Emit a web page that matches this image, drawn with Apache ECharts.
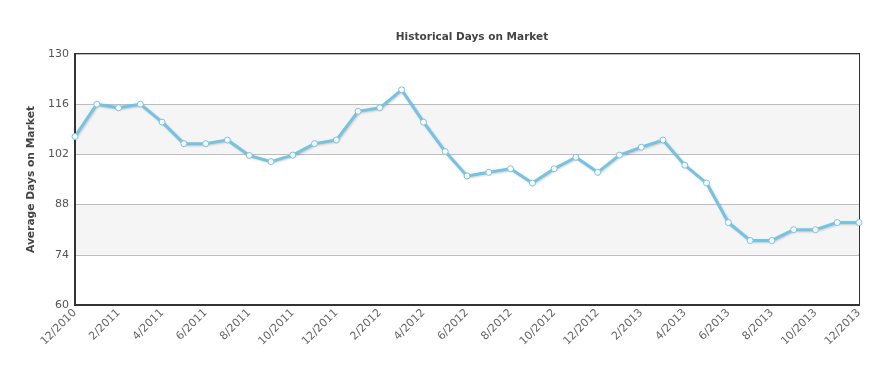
<!DOCTYPE html>
<html>
<head>
<meta charset="utf-8">
<script src="https://cdn.jsdelivr.net/npm/echarts@6/dist/echarts.min.js"></script>
<style>html,body{margin:0;padding:0;background:#fff;}#c{width:894px;height:379px;}</style>
</head>
<body>
<div id="c"></div>
<script>
const categories = [
  "12/2010","1/2011","2/2011","3/2011","4/2011","5/2011","6/2011","7/2011","8/2011","9/2011","10/2011","11/2011",
  "12/2011","1/2012","2/2012","3/2012","4/2012","5/2012","6/2012","7/2012","8/2012","9/2012","10/2012","11/2012",
  "12/2012","1/2013","2/2013","3/2013","4/2013","5/2013","6/2013","7/2013","8/2013","9/2013","10/2013","11/2013","12/2013"
];
const daysOnMarket = [
  107,116,115,116,111,105,105,106,101.7,100,101.8,105,
  106,114,115,120,111,102.8,96,97,98,94,98,101.2,
  97,101.8,104,106,99,94,83,78,78,81,81,83,83
];
const yTicks = { min: 60, max: 130, interval: 14 };
const titleText = "Historical Days on Market";
const yAxisName = "Average Days on Market";

const chart = echarts.init(document.getElementById('c'), null, { renderer: 'canvas' });
chart.setOption({
  animation: false,
  backgroundColor: '#ffffff',
  title: {
    text: titleText,
    left: 467, top: 27, textAlign: 'center',
    textStyle: { fontFamily: 'DejaVu Sans', fontSize: 10.5, fontWeight: 'bold', color: '#444' }
  },
  grid: { left: 75, right: 35, top: 54, bottom: 74, show: true, borderColor: '#333', borderWidth: 2, backgroundColor: 'transparent' },
  xAxis: {
    type: 'category',
    data: categories,
    boundaryGap: false,
    axisLine: { show: true, lineStyle: { color: '#333', width: 2 } },
    axisTick: { show: false },
    axisLabel: { interval: 1, rotate: 45, fontFamily: 'DejaVu Sans', fontSize: 11, color: '#666', margin: 6 },
    splitLine: { show: false }
  },
  yAxis: {
    type: 'value',
    min: yTicks.min, max: yTicks.max, interval: yTicks.interval,
    name: yAxisName, nameLocation: 'middle', nameGap: 38,
    nameTextStyle: { fontFamily: 'DejaVu Sans', fontSize: 10.7, fontWeight: 'bold', color: '#444' },
    axisLine: { show: true, lineStyle: { color: '#333', width: 2 } },
    axisTick: { show: false },
    axisLabel: { fontFamily: 'DejaVu Sans', fontSize: 11, color: '#555', margin: 6 },
    splitLine: { show: true, lineStyle: { color: '#bdbdbd', width: 1 } },
    splitArea: { show: true, areaStyle: { color: ['#ffffff', '#f5f5f5'] } }
  },
  series: [{
    type: 'line',
    data: daysOnMarket,
    symbol: 'circle',
    symbolSize: 6,
    showAllSymbol: true,
    clip: false,
    lineStyle: { color: '#74c2e4', width: 3, shadowColor: 'rgba(0,0,0,0.18)', shadowBlur: 2, shadowOffsetX: 1, shadowOffsetY: 1 },
    itemStyle: { color: '#ffffff', borderColor: '#74c2e4', borderWidth: 1 }
  }]
});
</script>
</body>
</html>
